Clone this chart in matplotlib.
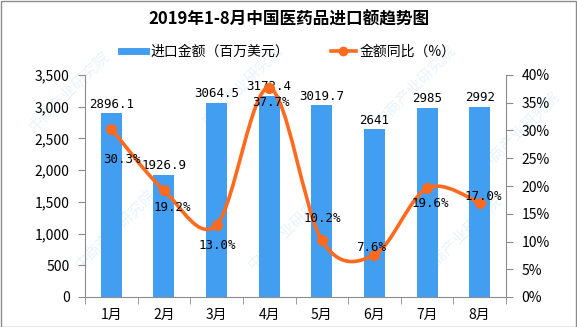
import matplotlib
matplotlib.use("Agg")
import matplotlib.pyplot as plt
import numpy as np
from matplotlib.path import Path
from matplotlib.patches import PathPatch, Rectangle
from matplotlib.lines import Line2D
from matplotlib.ticker import FuncFormatter, MultipleLocator

plt.rcParams['font.family'] = ['Noto Sans CJK SC', 'DejaVu Sans']

months = ["1月", "2月", "3月", "4月", "5月", "6月", "7月", "8月"]
import_value = [2896.1, 1926.9, 3064.5, 3172.4, 3019.7, 2641, 2985, 2992]
value_labels = ["2896.1", "1926.9", "3064.5", "3172.4", "3019.7", "2641", "2985", "2992"]
yoy_pct = [30.3, 19.2, 13.0, 37.7, 10.2, 7.6, 19.6, 17.0]
title = "2019年1-8月中国医药品进口额趋势图"
bar_name = "进口金额（百万美元）"
line_name = "金额同比（%）"

# label offsets in pixels (dx, dy up positive) for percentage labels
pct_offsets = [(11, -31), (8, -17), (1, -21), (2, -15), (0, 22), (-3, 7), (3, -15), (4, 6)]

BLUE = "#429ef0"
ORANGE = "#ff6a1f"
GRAY = "#8c8c8c"

W, H = 577, 327
fig = plt.figure(figsize=(W / 100, H / 100), dpi=100)
ax = fig.add_axes([85 / W, 1 - 297 / H, (506 - 85) / W, (297 - 75) / H])
ax2 = ax.twinx()

x = np.arange(len(months))
ax.bar(x, import_value, width=0.4, color=BLUE, zorder=2)
ax.set_xlim(-0.5, len(months) - 0.5)
ax.set_ylim(0, 3500)
ax.yaxis.set_major_locator(MultipleLocator(500))
ax.yaxis.set_major_formatter(FuncFormatter(lambda v, p: f"{int(v):,}"))
ax.set_xticks(x)
ax.set_xticklabels(months, fontsize=10)
ax.set_xticks(np.arange(-0.5, len(months)), minor=True)
ax.tick_params(axis='x', which='major', length=0, pad=8)
ax.tick_params(axis='x', which='minor', length=5, color=GRAY)
ax.tick_params(axis='y', length=5, color=GRAY, labelsize=10, pad=6)

for xi, v, lab in zip(x, import_value, value_labels):
    ax.annotate(lab, (xi, v), xytext=(0, 2), textcoords='offset points',
                ha='center', va='bottom', fontsize=9, family=['DejaVu Sans Mono'])

# smoothed line (Catmull-Rom via cubic Bezier)
ax2.set_ylim(0, 40)
ax2.yaxis.set_major_locator(MultipleLocator(5))
ax2.yaxis.set_major_formatter(FuncFormatter(lambda v, p: f"{int(v)}%"))
ax2.tick_params(axis='y', length=5, color=GRAY, labelsize=10, pad=6)

pts = np.column_stack([x, yoy_pct]).astype(float)
verts = [tuple(pts[0])]
codes = [Path.MOVETO]
n = len(pts)
t = 1 / 6
for i in range(n - 1):
    p0 = pts[i - 1] if i > 0 else pts[i]
    p1 = pts[i]
    p2 = pts[i + 1]
    p3 = pts[i + 2] if i + 2 < n else pts[i + 1]
    c1 = p1 + (p2 - p0) * t
    c2 = p2 - (p3 - p1) * t
    verts += [tuple(c1), tuple(c2), tuple(p2)]
    codes += [Path.CURVE4] * 3
ax2.add_patch(PathPatch(Path(verts, codes), facecolor='none', edgecolor=ORANGE,
                        lw=2.6, zorder=3, capstyle='round'))
ax2.plot(x, yoy_pct, 'o', color=ORANGE, ms=7, zorder=4)
for xi, v, (dx, dy) in zip(x, yoy_pct, pct_offsets):
    ax2.annotate(f"{v:.1f}%", (xi, v), xytext=(dx * 0.72, dy * 0.72), textcoords='offset points',
                 ha='center', va='center', fontsize=9, family=['DejaVu Sans Mono'], zorder=5)

for a in (ax, ax2):
    for s in a.spines.values():
        s.set_visible(False)
ax.spines['left'].set_visible(True)
ax.spines['left'].set_color(GRAY)
ax.spines['bottom'].set_visible(True)
ax.spines['bottom'].set_color(GRAY)
ax2.spines['right'].set_visible(True)
ax2.spines['right'].set_color(GRAY)
ax.set_zorder(1)
ax2.set_zorder(2)
ax.patch.set_visible(False)
ax2.patch.set_visible(False)

fig.text(0.5, 1 - 20 / H, title, ha='center', va='center', fontsize=12, fontweight='bold')

handles = [Line2D([0], [0], color=BLUE, lw=5),
           Line2D([0], [0], color=ORANGE, lw=2.6, marker='o', ms=6)]
fig.legend(handles, [bar_name, line_name], loc='center', bbox_to_anchor=(0.5, 1 - 52 / H),
           ncol=2, frameon=False, fontsize=10, handlelength=1.8, columnspacing=3.0,
           handletextpad=0.3)

# watermark (kept fully inside the figure)
for (wx, wy) in [(0.12, 0.72), (0.42, 0.74), (0.72, 0.74), (0.9, 0.6),
                 (0.2, 0.3), (0.5, 0.3), (0.8, 0.28)]:
    fig.text(wx, wy, "中商产业研究院", rotation=45, fontsize=11, color="#4a9be0",
             alpha=0.12, ha='center', va='center', zorder=0)

fig.patches.append(Rectangle((0.5 / W, 0.5 / H), 1 - 1.5 / W, 1 - 1.5 / H, transform=fig.transFigure,
                             fill=False, edgecolor=GRAY, lw=1))
fig.savefig("out.png", dpi=100)
